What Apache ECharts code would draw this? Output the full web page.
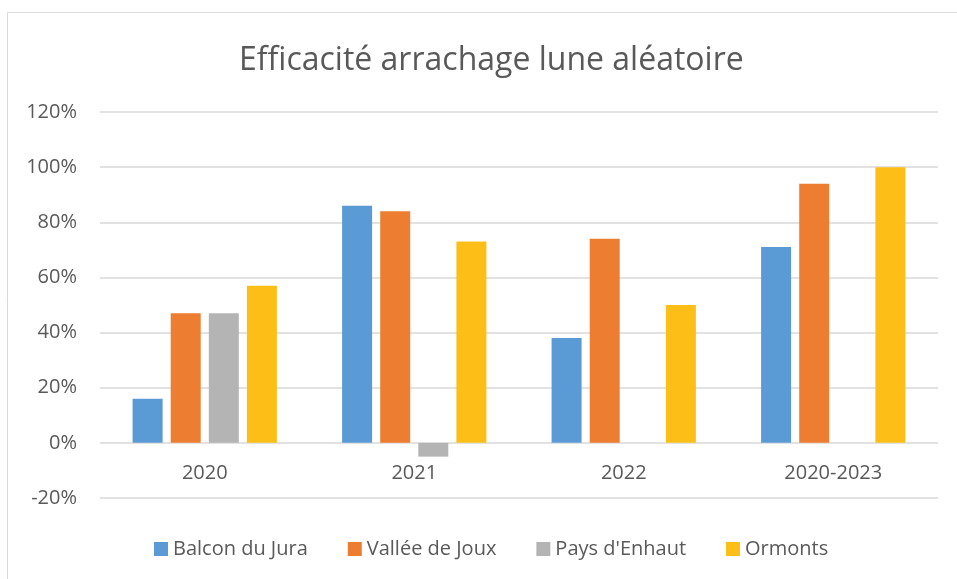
<!DOCTYPE html>
<html>
<head>
<meta charset="utf-8">
<script src="https://cdn.jsdelivr.net/npm/echarts@6/dist/echarts.min.js"></script>
<style>
  html, body { margin: 0; padding: 0; background: #fff; }
  #chart { width: 957px; height: 579px; }
</style>
</head>
<body>
<div id="chart"></div>
<script>
const categories = ['2020', '2021', '2022', '2020-2023'];
const balconDuJura = [16, 86, 38, 71];
const valleeDeJoux = [47, 84, 74, 94];
const paysDEnhaut = [47, -5, null, null];
const ormonts = [57, 73, 50, 100];

const font = 'Open Sans';
const textColor = '#595959';

function bar(name, data, color) {
  return {
    name: name,
    type: 'bar',
    data: data,
    barWidth: 30,
    barGap: '27%',
    itemStyle: { color: color },
  };
}

const chart = echarts.init(document.getElementById('chart'));
chart.setOption({
  animation: false,
  title: {
    text: 'Efficacité arrachage lune aléatoire',
    left: 234,
    top: 40,
    textStyle: { fontFamily: font, fontSize: 32, fontWeight: 'normal', color: textColor },
  },
  graphic: [
    {
      type: 'rect',
      shape: { x: 7.5, y: 12.5, width: 1000, height: 1000 },
      style: { fill: 'none', stroke: '#d9d9d9', lineWidth: 1 },
      silent: true,
    },
  ],
  grid: { left: 100, right: 19, top: 112, bottom: 81 },
  legend: {
    bottom: 15,
    left: 149,
    itemWidth: 14,
    itemHeight: 14,
    itemGap: 40,
    icon: 'rect',
    textStyle: { fontFamily: font, fontSize: 20, color: textColor },
  },
  xAxis: {
    type: 'category',
    data: categories,
    offset: -55, // axe des catégories sur la ligne 0 %
    axisTick: { show: false },
    axisLine: { show: false },
    axisLabel: { fontFamily: font, fontSize: 20, color: textColor, margin: 20 },
  },
  yAxis: {
    type: 'value',
    min: -20,
    max: 120,
    interval: 20,
    axisLabel: { formatter: '{value}%', fontFamily: font, fontSize: 20, color: textColor, margin: 23 },
    splitLine: { lineStyle: { color: '#d9d9d9', width: 1.5 } },
  },
  series: [
    bar('Balcon du Jura', balconDuJura, '#5B9BD5'),
    bar('Vallée de Joux', valleeDeJoux, '#ED7D31'),
    bar("Pays d'Enhaut", paysDEnhaut, '#B4B4B4'),
    bar('Ormonts', ormonts, '#FDBF17'),
  ],
});
</script>
</body>
</html>
